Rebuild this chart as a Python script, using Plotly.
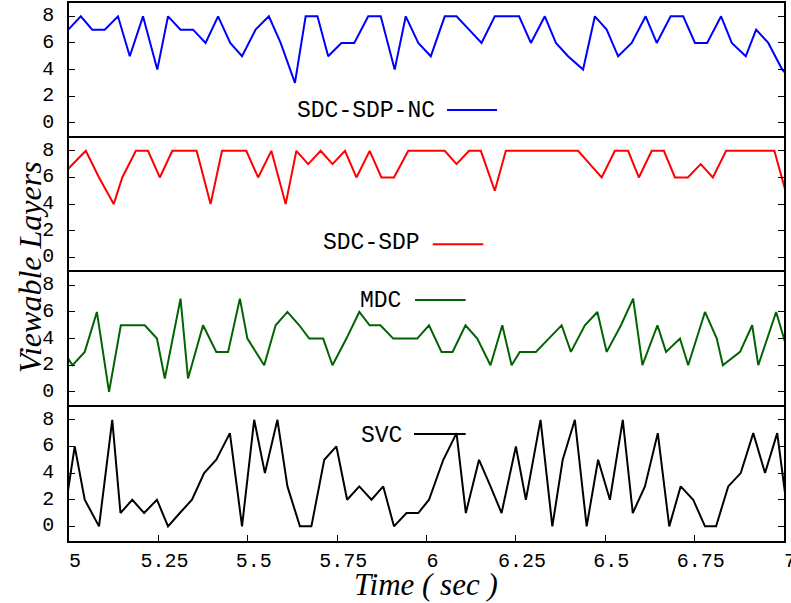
import plotly.graph_objects as go
from plotly.subplots import make_subplots

# ---------------- data (time in sec, viewable layers) ----------------
nc_t = [4.998, 5.033, 5.065, 5.100, 5.137, 5.170, 5.207, 5.247, 5.277, 5.312, 5.347,
        5.382, 5.417, 5.451, 5.484, 5.522, 5.559, 5.592, 5.632, 5.662, 5.695,
        5.725, 5.762, 5.798, 5.837, 5.872, 5.911, 5.942, 5.977, 6.012, 6.051,
        6.084, 6.119, 6.154, 6.191, 6.225, 6.259, 6.292, 6.331, 6.362, 6.396,
        6.438, 6.471, 6.504, 6.536, 6.574, 6.613, 6.644, 6.683, 6.718, 6.751,
        6.785, 6.824, 6.854, 6.893, 6.922, 6.956, 6.995, 7.030]
nc_v = [7, 8, 7, 7, 8, 5, 8, 4, 8, 7, 7,
        6, 8, 6, 5, 7, 8, 6, 3, 8, 8,
        5, 6, 6, 8, 8, 4, 8, 6, 5, 8,
        8, 7, 6, 8, 8, 8, 6, 8, 6, 5,
        4, 8, 7, 5, 6, 8, 6, 8, 8, 6,
        6, 8, 6, 5, 7, 6, 4, 3]

sdp_t = [4.974, 5.047, 5.084, 5.125, 5.149, 5.187, 5.221, 5.254, 5.289, 5.324, 5.357,
         5.396, 5.428, 5.462, 5.496, 5.529, 5.566, 5.606, 5.636, 5.669, 5.704,
         5.737, 5.772, 5.804, 5.841, 5.874, 5.909, 5.949, 5.983, 6.017, 6.051,
         6.084, 6.119, 6.152, 6.191, 6.222, 6.256, 6.289, 6.323, 6.356, 6.390,
         6.424, 6.457, 6.490, 6.527, 6.564, 6.594, 6.630, 6.664, 6.695, 6.731,
         6.767, 6.801, 6.838, 6.871, 6.905, 6.939, 6.973, 7.004]
sdp_v = [6, 8, 6, 4, 6, 8, 8, 6, 8, 8, 8,
         4, 8, 8, 8, 6, 8, 4, 8, 7, 8,
         7, 8, 6, 8, 6, 6, 8, 8, 8, 8,
         7, 8, 8, 5, 8, 8, 8, 8, 8, 8,
         8, 7, 6, 8, 8, 6, 8, 8, 6, 6,
         7, 6, 8, 8, 8, 8, 8, 5]

mdc_t = [4.985, 5.010, 5.044, 5.078, 5.112, 5.145, 5.178, 5.212, 5.246, 5.268, 5.312,
         5.333, 5.375, 5.412, 5.445, 5.478, 5.499, 5.522, 5.546, 5.578, 5.611,
         5.644, 5.672, 5.711, 5.737, 5.776, 5.812, 5.841, 5.871, 5.907, 5.940,
         5.974, 6.007, 6.042, 6.073, 6.109, 6.142, 6.179, 6.212, 6.238, 6.261,
         6.284, 6.306, 6.342, 6.378, 6.404, 6.443, 6.478, 6.504, 6.544, 6.578,
         6.604, 6.646, 6.670, 6.709, 6.732, 6.779, 6.812, 6.829, 6.877, 6.911,
         6.928, 6.978, 7.011]
mdc_v = [3, 2, 3, 6, 0, 5, 5, 5, 4, 1, 7,
         1, 5, 3, 3, 7, 4, 3, 2, 5, 6,
         5, 4, 4, 2, 4, 6, 5, 5, 4, 4,
         4, 5, 3, 3, 5, 4, 2, 5, 2, 3,
         3, 3, 4, 5, 3, 5, 6, 3, 5, 7,
         2, 5, 3, 4, 2, 6, 4, 2, 3, 5,
         2, 6, 3]

svc_t = [4.982, 5.016, 5.044, 5.084, 5.121, 5.144, 5.177, 5.210, 5.246, 5.277, 5.310,
         5.344, 5.378, 5.412, 5.450, 5.484, 5.518, 5.548, 5.583, 5.611, 5.646,
         5.678, 5.714, 5.748, 5.778, 5.812, 5.846, 5.879, 5.909, 5.944, 5.977,
         6.007, 6.047, 6.084, 6.110, 6.147, 6.179, 6.210, 6.250, 6.278, 6.319,
         6.352, 6.381, 6.415, 6.448, 6.480, 6.513, 6.549, 6.577, 6.611, 6.647,
         6.679, 6.711, 6.746, 6.779, 6.810, 6.844, 6.879, 6.914, 6.947, 6.981,
         7.015]
svc_v = [0, 6, 2, 0, 8, 1, 2, 1, 2, 0, 1,
         2, 4, 5, 7, 0, 8, 4, 8, 3, 0,
         0, 5, 6, 2, 3, 2, 3, 0, 1, 1,
         2, 5, 7, 1, 5, 3, 1, 6, 2, 8,
         0, 5, 8, 0, 5, 2, 8, 1, 3, 7,
         0, 3, 2, 0, 0, 3, 4, 7, 4, 7,
         0]

series_names = ["SDC-SDP-NC", "SDC-SDP", "MDC", "SVC"]
series_colors = ["#0000ff", "#ff0000", "#006400", "#000000"]
series_t = [nc_t, sdp_t, mdc_t, svc_t]
series_v = [nc_v, sdp_v, mdc_v, svc_v]

x_tickvals = [5, 5.25, 5.5, 5.75, 6, 6.25, 6.5, 6.75, 7]
x_ticktext = ["5", "5.25", "5.5", "5.75", "6", "6.25", "6.5", "6.75", "7"]
y_tickvals = [0, 2, 4, 6, 8]

# ---------------- figure ----------------
fig = make_subplots(rows=4, cols=1, shared_xaxes=True, vertical_spacing=0)

for i, (t, v, c, n) in enumerate(zip(series_t, series_v, series_colors, series_names)):
    fig.add_trace(go.Scatter(x=t, y=v, mode="lines", name=n,
                             line=dict(color=c, width=2), showlegend=False),
                  row=i + 1, col=1)

tickfont = dict(family="Liberation Mono", size=20, color="black")
for r in range(1, 5):
    if r < 4:
        fig.update_xaxes(range=[5, 7], side="top", showline=True, mirror=False,
                         linecolor="black", linewidth=1.5, showgrid=False,
                         zeroline=False, ticks="", showticklabels=False,
                         automargin=False, row=r, col=1)
    else:
        fig.update_xaxes(range=[5, 7], side="bottom", showline=True, mirror=True,
                         linecolor="black", linewidth=1.5, showgrid=False,
                         zeroline=False, tickvals=x_tickvals, ticktext=x_ticktext,
                         ticks="inside", ticklen=6, tickcolor="black",
                         showticklabels=True, tickfont=tickfont,
                         ticklabelshift=6, ticklabelstandoff=0,
                         ticklabeloverflow="allow", automargin=False,
                         row=r, col=1)
    fig.update_yaxes(range=[-1.1, 9.0], showline=True, mirror="allticks",
                     linecolor="black", linewidth=1.5, showgrid=False,
                     zeroline=False, tickvals=y_tickvals, ticks="inside",
                     ticklen=6, tickcolor="black", tickfont=tickfont,
                     ticklabelstandoff=9, ticklabelshift=-2,
                     automargin=False, row=r, col=1)

# key (gnuplot style: label then sample line), in paper coordinates
key_text_x = [0.5147, 0.4933, 0.4676, 0.4685]
key_text_y = [0.7993, 0.5530, 0.4461, 0.1952]
key_line_x0 = [0.5287, 0.5087, 0.4839, 0.4825]
key_line_x1 = [0.5986, 0.5794, 0.5548, 0.5548]
key_line_y = [0.8011, 0.5515, 0.4480, 0.1989]

keyfont = dict(family="Liberation Mono", size=23, color="black")
for i in range(4):
    fig.add_annotation(xref="paper", yref="paper", x=key_text_x[i], y=key_text_y[i],
                       text=series_names[i], showarrow=False, xanchor="right",
                       yanchor="middle", font=keyfont)
    fig.add_shape(type="line", xref="paper", yref="paper",
                  x0=key_line_x0[i], x1=key_line_x1[i],
                  y0=key_line_y[i], y1=key_line_y[i],
                  line=dict(color=series_colors[i], width=2))

fig.add_annotation(xref="paper", yref="paper", x=-0.0545, y=0.509,
                   text="<i>Viewable Layers</i>", textangle=-90, showarrow=False,
                   xanchor="center", yanchor="middle",
                   font=dict(family="Liberation Serif", size=32, color="black"))
fig.add_annotation(xref="paper", yref="paper", x=0.499, y=-0.080,
                   text="<i>Time ( sec )</i>", showarrow=False,
                   xanchor="center", yanchor="middle",
                   font=dict(family="Liberation Serif", size=31, color="black"))

fig.update_layout(width=791, height=603, margin=dict(l=69, r=7, t=3, b=62),
                  paper_bgcolor="white", plot_bgcolor="white", showlegend=False)

fig.write_html("out.html")
